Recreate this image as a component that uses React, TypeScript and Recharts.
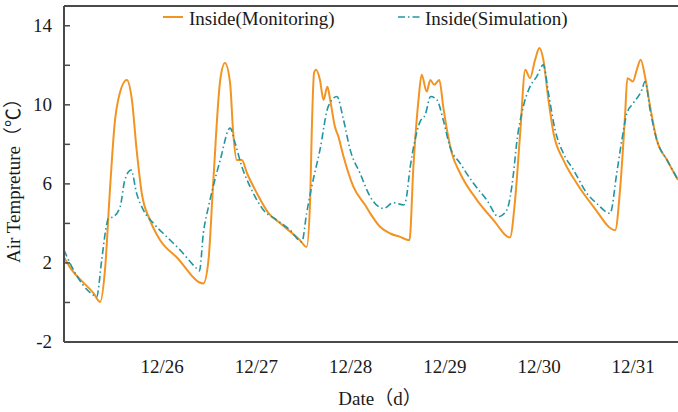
import { LineChart, Line, XAxis, YAxis, ReferenceLine } from 'recharts';

// --- Data (x = hours from start of record, y = °C) ---
const monitoringHours = [
  0, 1.5, 7.5, 9.2, 10.5, 11.7, 13.0, 13.8, 16.0, 17.3, 18.5, 19.8, 21.9, 24.5, 28.7, 35.5,
  36.8, 38.0, 39.8, 41.0, 42.3, 43.1, 44.0, 45.3, 46.6, 49.1, 52.1, 55.0, 60.1, 61.8,
  62.7, 63.1, 63.7, 64.2, 65.2, 66.1, 67.1, 67.8, 69.0, 69.9, 71.2, 73.7, 76.7, 78.0,
  80.5, 83.1, 85.6, 88.0, 89.0, 90.3, 91.1, 92.4, 93.3, 94.3, 95.6, 96.6, 97.7, 98.8,
  100.9, 105.2, 109.4, 113.6, 114.9, 116.2, 117.5, 118.7, 120.0, 121.1, 122.1, 123.4,
  124.7, 127.2, 130.6, 134.9, 140.4, 141.7, 142.9, 143.5, 144.9, 145.9, 146.9, 148.0,
  149.3, 151.0, 153.6, 156.4,
];
const monitoringTemps = [
  2.29, 1.79, 0.47, 0.03, 1.79, 5.69, 9.24, 10.25, 11.26, 10.25, 7.72, 5.54, 4.17, 3.15, 2.29, 0.96,
  2.14, 6.04, 11.26, 12.11, 11.11, 8.58, 7.21, 7.21, 6.55, 5.54, 4.52, 4.02, 3.15, 2.81,
  5.18, 8.58, 11.62, 11.77, 11.26, 10.25, 10.92, 10.25, 8.9, 8.39, 7.38, 5.86, 4.93, 4.51,
  3.83, 3.49, 3.32, 3.15, 6.87, 10.25, 11.52, 10.67, 11.26, 11.01, 11.26, 9.91, 8.56, 7.55,
  6.54, 5.18, 4.17, 3.29, 5.18, 8.56, 11.77, 11.35, 12.28, 12.87, 12.28, 10.25,
  8.56, 7.21, 6.03, 4.84, 3.66, 5.86, 9.4, 11.35, 11.18, 11.77, 12.28, 11.43,
  9.91, 8.22, 7.21, 6.2,
];

const simulationHours = [
  0, 2.0, 7.5, 8.3, 9.6, 10.5, 11.3, 12.6, 14.3, 15.5, 17.1, 18.5, 20.2, 22.8, 26.2, 29.6,
  33.8, 34.5, 35.5, 36.8, 38.0, 39.8, 42.3, 43.6, 45.3, 47.4, 50.8, 54.2, 57.6, 60.6,
  61.8, 63.1, 65.2, 67.3, 69.5, 71.2, 72.9, 75.4, 78.0, 81.4, 83.9, 86.5, 87.1, 88.2,
  89.4, 90.7, 92.0, 93.4, 95.0, 96.6, 98.3, 100.9, 104.3, 107.7, 110.7, 112.8, 114.5,
  115.3, 117.0, 118.7, 120.4, 122.1, 123.4, 125.1, 127.2, 129.8, 133.2, 135.7, 139.1,
  140.8, 142.1, 143.4, 145.0, 147.2, 148.0, 149.3, 151.0, 153.6, 156.4,
];
const simulationTemps = [
  2.65, 1.8, 0.37, 0.28, 2.14, 3.51, 4.25, 4.34, 4.84, 6.2, 6.7, 5.52, 4.68, 4.0, 3.32, 2.65,
  1.72, 1.6, 3.51, 4.84, 5.86, 7.21, 8.82, 8.06, 6.87, 5.86, 4.68, 4.17, 3.66, 3.07,
  4.51, 5.86, 7.72, 9.91, 10.42, 9.24, 7.72, 6.54, 5.35, 4.76, 5.05, 4.93, 5.18, 6.87,
  8.22, 9.15, 9.49, 10.42, 10.25, 9.24, 7.88, 7.04, 6.03, 5.18, 4.34, 4.68, 6.54,
  8.06, 9.91, 10.92, 11.43, 12.02, 10.59, 8.73, 7.55, 6.7, 5.52, 5.01, 4.51,
  6.54, 8.22, 9.58, 10.08, 10.76, 11.18, 9.74, 8.22, 7.21, 6.2,
];

const seriesNames = ['Inside(Monitoring)', 'Inside(Simulation)'];
const dayTicks = [25, 49, 73, 97, 121, 145];
const dayLabels = ['12/26', '12/27', '12/28', '12/29', '12/30', '12/31'];
const tempTicks = [-2, 0, 2, 4, 6, 8, 10, 12, 14];
const labeledTemps = [-2, 2, 6, 10, 14];

const monitoring = monitoringHours.map((h, i) => ({ h, v: monitoringTemps[i] }));
const simulation = simulationHours.map((h, i) => ({ h, v: simulationTemps[i] }));

const FONT = '"Liberation Serif", "Times New Roman", "Noto Sans CJK SC", serif';
const ORANGE = '#F39422';
const TEAL = '#2196A3';
const AXIS = '#4a4a4a';
const TEXT = '#1a1a1a';
const DASH = '7 3 1.5 3';

const YTick = ({ x, y, payload }: any) => (
  <g>
    <line x1={x + 12} x2={x + 18} y1={y} y2={y} stroke={AXIS} strokeWidth={1.5} />
    {labeledTemps.includes(payload.value) && (
      <text x={x} y={y} dy={6} textAnchor="end" fontSize={19} fontFamily={FONT} fill={TEXT}>
        {payload.value}
      </text>
    )}
  </g>
);

const XTick = ({ x, y, payload }: any) => (
  <text x={x} y={y + 30.5} textAnchor="middle" fontSize={19} fontFamily={FONT} fill={TEXT}>
    {dayLabels[dayTicks.indexOf(payload.value)]}
  </text>
);

export default function App() {
  return (
    <div style={{ position: 'absolute', left: 0, top: 0, width: 678, height: 412, background: '#fff' }}>
      <LineChart
        width={678}
        height={412}
        margin={{ top: 6, right: 0, left: 0, bottom: 30 }}
      >
        <XAxis
          type="number"
          dataKey="h"
          domain={[0, 156.4]}
          ticks={dayTicks}
          tickLine={false}
          tickSize={0}
          tickMargin={0}
          tick={<XTick />}
          height={40}
          axisLine={{ stroke: AXIS, strokeWidth: 2 }}
          allowDataOverflow
          label={({ viewBox }: any) => (
            <text
              x={viewBox.x + viewBox.width / 2 + 9}
              y={viewBox.y + 63}
              textAnchor="middle"
              fontSize={19}
              fontFamily={FONT}
              fill={TEXT}
            >
              Date（d）
            </text>
          )}
        />
        <YAxis
          type="number"
          domain={[-2, 15]}
          ticks={tempTicks}
          tickLine={false}
          tickSize={0}
          tickMargin={12}
          tick={<YTick />}
          width={64}
          axisLine={{ stroke: AXIS, strokeWidth: 2 }}
          allowDataOverflow
          label={({ viewBox }: any) => (
            <text
              x={20}
              y={viewBox.y + viewBox.height / 2 + 2}
              transform={`rotate(-90, 20, ${viewBox.y + viewBox.height / 2 + 2})`}
              textAnchor="middle"
              fontSize={19}
              fontFamily={FONT}
              fill={TEXT}
            >
              Air Tempreture（℃）
            </text>
          )}
        />
        <ReferenceLine y={15} stroke={AXIS} strokeWidth={2} />
        <Line
          data={monitoring}
          dataKey="v"
          name={seriesNames[0]}
          type="monotone"
          stroke={ORANGE}
          strokeWidth={2}
          dot={false}
          isAnimationActive={false}
        />
        <Line
          data={simulation}
          dataKey="v"
          name={seriesNames[1]}
          type="monotone"
          stroke={TEAL}
          strokeWidth={1.6}
          strokeDasharray={DASH}
          dot={false}
          isAnimationActive={false}
        />
      </LineChart>
      {/* legend sits inside the plot, under the top frame line */}
      <svg width={678} height={36} style={{ position: 'absolute', left: 0, top: 0, pointerEvents: 'none' }}>
        <line x1={163} x2={183} y1={17} y2={17} stroke={ORANGE} strokeWidth={2} />
        <text x={189} y={25} fontSize={19} fontFamily={FONT} fill={TEXT}>{seriesNames[0]}</text>
        <line x1={398} x2={420} y1={17} y2={17} stroke={TEAL} strokeWidth={1.6} strokeDasharray={DASH} />
        <text x={425} y={25} fontSize={19} fontFamily={FONT} fill={TEXT}>{seriesNames[1]}</text>
      </svg>
    </div>
  );
}
